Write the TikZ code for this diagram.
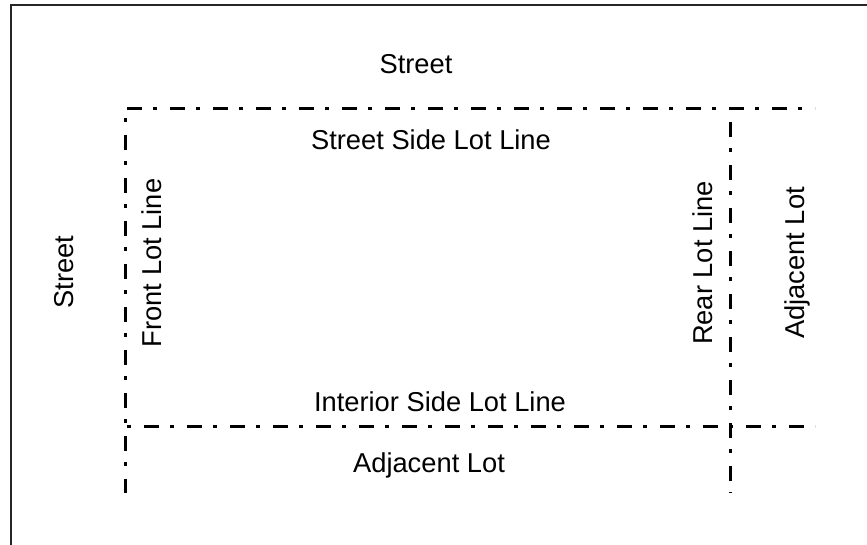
\documentclass[tikz,border=0pt]{standalone}
\usepackage{fontspec}
\setmainfont{Liberation Sans}
\begin{document}
\begin{tikzpicture}[x=1pt,y=-1pt,
  lotline/.style={line width=3pt,dash pattern=on 15pt off 11pt on 4pt off 13pt},
  lbl/.style={inner sep=0pt,font=\fontsize{27.3}{31}\selectfont},
  vlbl/.style={lbl,rotate=90}]
\useasboundingbox (0,0) rectangle (867,544);
\coordinate (f1) at (11,600);
\coordinate (f2) at (11,5);
\coordinate (f3) at (900,5);
\draw[black!85,line width=1.5pt] (f1) -- (f2) -- (f3);
\coordinate (tl) at (127,108);
\coordinate (tr) at (815,108);
\coordinate (bl) at (127,426);
\coordinate (br) at (815,426);
\coordinate (lt) at (125,108);
\coordinate (lb) at (125,493);
\coordinate (rt) at (730,108);
\coordinate (rb) at (730,493);
\draw[lotline] (tl) -- (tr);
\draw[lotline,dash phase=26pt] (bl) -- (br);
\draw[lotline,dash phase=16pt] (lt) -- (lb);
\draw[lotline,dash phase=29pt] (rt) -- (rb);
\node[lbl] (st) at (416,64) {Street};
\node[lbl] (ssl) at (431,140) {Street Side Lot Line};
\node[vlbl] (sl) at (64,272) {Street};
\node[vlbl] (fl) at (152,263) {Front Lot Line};
\node[vlbl] (rl) at (703,263) {Rear Lot Line};
\node[vlbl] (ar) at (797,263) {Adjacent Lot};
\node[lbl] (isl) at (440,402) {Interior Side Lot Line};
\node[lbl] (ab) at (429,465) {Adjacent Lot};
\end{tikzpicture}
\end{document}
